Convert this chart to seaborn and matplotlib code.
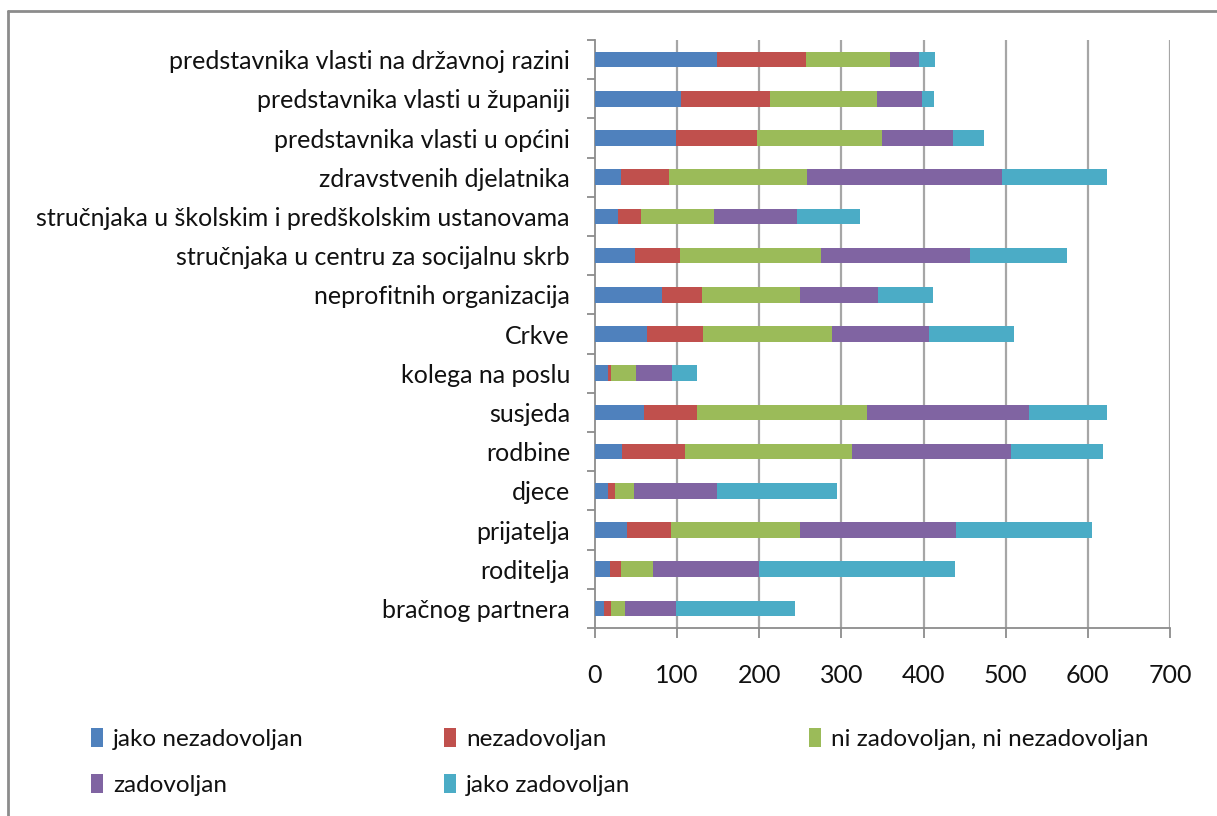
import matplotlib
matplotlib.use("Agg")
import matplotlib.pyplot as plt
import matplotlib.lines as mlines
import matplotlib.patches as mpatches
import seaborn as sns
import numpy as np

categories = [
    "predstavnika vlasti na državnoj razini",
    "predstavnika vlasti u županiji",
    "predstavnika vlasti u općini",
    "zdravstvenih djelatnika",
    "stručnjaka u školskim i predškolskim ustanovama",
    "stručnjaka u centru za socijalnu skrb",
    "neprofitnih organizacija",
    "Crkve",
    "kolega na poslu",
    "susjeda",
    "rodbine",
    "djece",
    "prijatelja",
    "roditelja",
    "bračnog partnera",
]
jako_nezadovoljan = [149, 105, 99, 32, 28, 49, 82, 63, 16, 60, 33, 16, 39, 18, 11]
nezadovoljan = [108, 108, 98, 58, 28, 54, 48, 69, 4, 64, 77, 8, 53, 14, 8]
ni_ni = [102, 130, 152, 168, 89, 172, 120, 157, 30, 207, 203, 23, 157, 39, 17]
zadovoljan = [35, 55, 87, 237, 101, 182, 95, 118, 44, 197, 194, 101, 190, 129, 62]
jako_zadovoljan = [20, 15, 38, 128, 76, 118, 67, 103, 30, 95, 112, 146, 166, 238, 146]

series_names = ["jako nezadovoljan", "nezadovoljan", "ni zadovoljan, ni nezadovoljan",
                "zadovoljan", "jako zadovoljan"]
colors = ["#4F81BD", "#C0504D", "#9BBB59", "#8064A2", "#4BACC6"]
xticks = [0, 100, 200, 300, 400, 500, 600, 700]

sns.set_theme(style="white")
plt.rcParams["font.family"] = ["Lato", "DejaVu Sans"]

fig = plt.figure(figsize=(12.17, 8.16), dpi=100)
ax = fig.add_axes([595 / 1217, 1 - 628 / 816, (1170 - 595) / 1217, (628 - 40) / 816])

data = np.array([jako_nezadovoljan, nezadovoljan, ni_ni, zadovoljan, jako_zadovoljan], dtype=float)
cum = np.cumsum(data, axis=0)

for i in range(4, -1, -1):
    sns.barplot(x=cum[i], y=categories, orient="h", color=colors[i], width=0.4,
                saturation=1, ax=ax, linewidth=0, zorder=3)

ax.set_xlim(0, 700)
ax.set_ylim(14.5, -0.5)
ax.set_xlabel("")
ax.set_ylabel("")
ax.set_xticks(xticks)
ax.set_xticklabels([str(t) for t in xticks])

ax.grid(False)
for t in xticks[1:]:
    ax.axvline(t, color="#A6A6A6", lw=1.6, zorder=1)

for s in ["top", "right"]:
    ax.spines[s].set_visible(False)
for s in ["left", "bottom"]:
    ax.spines[s].set_color("#8C8C8C")
    ax.spines[s].set_linewidth(1.3)

ax.tick_params(axis="y", which="major", length=0, pad=18, labelsize=18, labelcolor="#111111")
ax.set_yticks(np.arange(-0.5, 15.0, 1.0), minor=True)
ax.tick_params(axis="y", which="minor", length=6, width=1.3, color="#8C8C8C", direction="out", left=True)
ax.tick_params(axis="x", which="major", length=7, width=1.3, color="#8C8C8C", direction="out",
               pad=19, labelsize=18, labelcolor="#111111", bottom=True)

# Legend (row-major as in reference)
handles = [mpatches.Patch(facecolor=c, edgecolor="none") for c in colors]
legend_cols = [([0, 3], 0.075), ([1, 4], 0.365), ([2], 0.665)]
for idxs, xpos in legend_cols:
    fig.legend([handles[i] for i in idxs], [series_names[i] for i in idxs],
               loc="upper left", bbox_to_anchor=(xpos, 1 - 728 / 816),
               frameon=False, fontsize=17.5, handlelength=0.5, handleheight=0.8,
               handletextpad=0.4, labelspacing=1.0, borderpad=0, borderaxespad=0,
               labelcolor="#111111")

# outer chart border (top and left visible)
fig.add_artist(mlines.Line2D([8 / 1217, 1], [1 - 11 / 816, 1 - 11 / 816], color="#8C8C8C", lw=2,
                             transform=fig.transFigure))
fig.add_artist(mlines.Line2D([8 / 1217, 8 / 1217], [1 - 11 / 816, 0], color="#8C8C8C", lw=2,
                             transform=fig.transFigure))

fig.savefig("out.png", dpi=100, facecolor="white")
